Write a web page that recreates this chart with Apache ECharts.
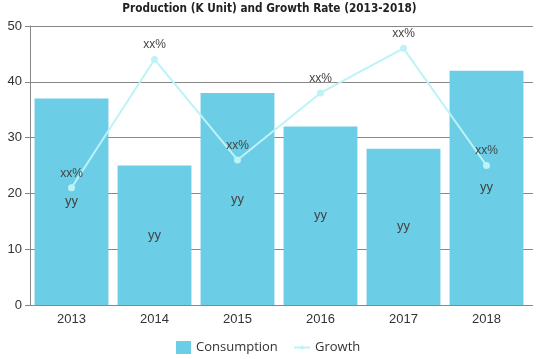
<!DOCTYPE html>
<html><head><meta charset="utf-8">
<script src="https://cdn.jsdelivr.net/npm/echarts@6/dist/echarts.min.js"></script>
<style>html,body{margin:0;padding:0;background:#fff}#c{width:539px;height:359px}</style>
</head><body><div id="c"></div>
<script>
const categories = ['2013','2014','2015','2016','2017','2018'];
const consumption = [37, 25, 38, 32, 28, 42];
const growth = [21, 44, 26, 38, 46, 25];
const yTicks = [0, 10, 20, 30, 40, 50];
const chart = echarts.init(document.getElementById('c'));
const legendText = {fontFamily: 'Open Sans', fontSize: 13, color: '#333'};
chart.setOption({
  animation: false,
  title: {text: 'Production (K Unit) and Growth Rate (2013-2018)', left: 'center', top: 0, padding: [3, 5],
    textStyle: {fontFamily: 'DejaVu Sans Condensed', fontWeight: 'bold', fontSize: 11.7, color: '#222'}},
  legend: [
    {left: 176, top: 341, padding: 0, itemGap: 5, itemWidth: 15, itemHeight: 13, textStyle: legendText,
      data: [{name: 'Consumption', icon: 'rect'}]},
    {left: 293, top: 341, padding: 0, itemGap: 5, itemWidth: 16, itemHeight: 5, textStyle: legendText,
      data: ['Growth']}
  ],
  grid: {left: 30, right: 11, top: 26, bottom: 54},
  xAxis: {type: 'category', data: categories,
    axisLine: {lineStyle: {color: '#888'}}, axisTick: {alignWithLabel: true, lineStyle: {color: '#888'}},
    axisLabel: {color: '#333', fontFamily: 'Liberation Sans', fontSize: 13}},
  yAxis: [{type: 'value', min: yTicks[0], max: yTicks[yTicks.length-1], interval: 10,
    axisLine: {show: true, lineStyle: {color: '#888'}}, axisTick: {show: true, lineStyle: {color: '#888'}},
    splitLine: {lineStyle: {color: '#888'}},
    axisLabel: {color: '#333', fontFamily: 'Liberation Sans', fontSize: 13}},
    {type: 'value', min: 0, max: 50, interval: 10, position: 'right',
    axisLine: {show: false}, axisTick: {show: true, lineStyle: {color: '#888'}},
    splitLine: {show: false}, axisLabel: {show: false}}],
  series: [
    {name: 'Consumption', type: 'bar', data: consumption, barCategoryGap: '11%',
      itemStyle: {color: '#6ccde6'},
      label: {show: true, position: 'inside', formatter: 'yy', color: '#444', fontFamily: 'Liberation Sans', fontSize: 13}},
    {name: 'Growth', type: 'line', data: growth, symbol: 'circle', symbolSize: 7,
      itemStyle: {color: '#bdf3f6'}, lineStyle: {color: '#bdf3f6', width: 2},
      label: {show: true, position: 'top', formatter: 'xx%', color: '#444', fontFamily: 'Liberation Sans', fontSize: 12}}
  ]
});
</script></body></html>
